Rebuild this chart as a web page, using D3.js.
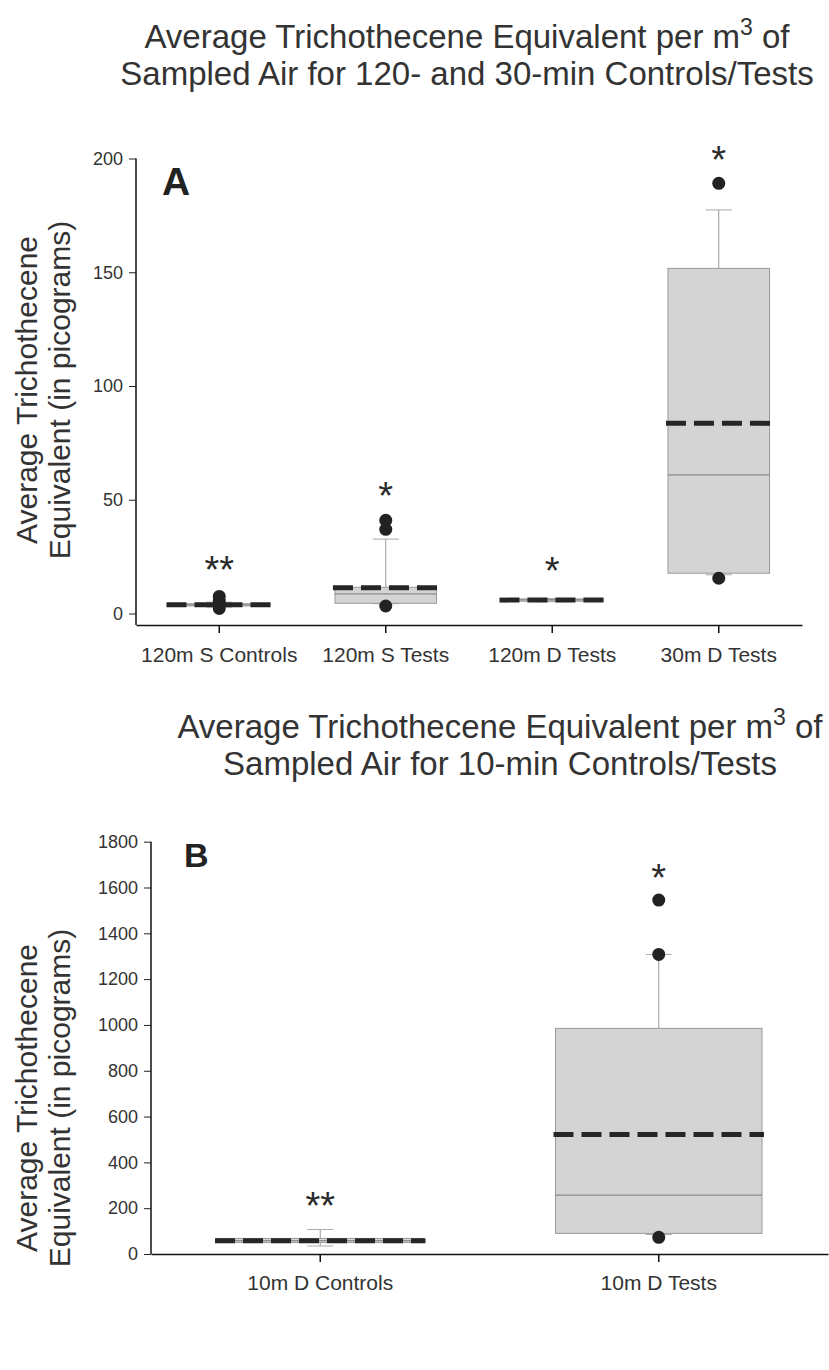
<!DOCTYPE html>
<html>
<head>
<meta charset="utf-8">
<script src="https://cdn.jsdelivr.net/npm/d3@7"></script>
<style>
	body { margin: 0; background: #fff; }
	text { font-family: "Liberation Sans", Arial, sans-serif; fill: #333; }
</style>
</head>
<body>
<div id="chart"></div>
<script>
'use strict'
var width = 829;
var height = 1370;

// Panel A: 120- and 30-min controls / tests
var catsA = ['120m S Controls', '120m S Tests', '120m D Tests', '30m D Tests'];
var q1A = [3.3, 4.5, 5.4, 17.7];
var medA = [3.8, 8.6, 6.0, 60.9];
var q3A = [4.3, 11.5, 6.4, 151.7];
var meanA = [3.8, 11.3, 5.9, 83.6];
var lowA = [2.8, 4.3, 5.2, 17.0];
var highA = [5.0, 32.7, 6.6, 177.4];
var outA = [[7.5, 5.5, 2.2], [41, 37, 3.3], [], [189.1, 15.5]];
var starsA = ['**', '*', '*', '*'];
var starAtA = [22.8, 55, 22.1, 203];
var ticksA = [0, 50, 100, 150, 200];

// Panel B: 10-min controls / tests
var catsB = ['10m D Controls', '10m D Tests'];
var q1B = [50, 90];
var medB = [58, 257];
var q3B = [68, 985];
var meanB = [58, 522];
var lowB = [35, 85];
var highB = [107, 1308];
var outB = [[], [1545, 1308, 73]];
var starsB = ['**', '*'];
var starAtB = [243, 1676];
var ticksB = [0, 200, 400, 600, 800, 1000, 1200, 1400, 1600, 1800];

var svg = d3.select('#chart')
	.append('svg')
	.attr('width', width)
	.attr('height', height);

function makeRows(cats, q1, med, q3, mean, low, high, out, stars, starAt){
	return cats.map(function(c, i){
		return {cat: c, q1: q1[i], med: med[i], q3: q3[i], mean: mean[i],
			low: low[i], high: high[i], out: out[i], star: stars[i], starAt: starAt[i]};
	});
}

function drawTitle(cx, y1, y2, line2){
	var t = svg.append('text')
		.attr('x', cx).attr('y', y1)
		.attr('text-anchor', 'middle')
		.style('font-size', '33px');
	t.append('tspan').text('Average Trichothecene Equivalent per m');
	t.append('tspan').text('3').attr('dy', -13).style('font-size', '23px');
	t.append('tspan').text(' of').attr('dy', 13);
	svg.append('text')
		.attr('x', cx).attr('y', y2)
		.attr('text-anchor', 'middle')
		.style('font-size', '33px')
		.text(line2);
}

function drawPanel(rows, ticks, p){
	var y = d3.scaleLinear().domain([0, p.yMax]).range([p.yBot, p.yTop]);
	var x = d3.scaleBand().domain(rows.map(function(d){ return d.cat; })).range([p.x0, p.x1]);
	var bw = x.bandwidth() * 0.61;
	var cx = function(d){ return x(d.cat) + x.bandwidth() / 2; };

	// y axis
	var ya = svg.append('g')
		.attr('transform', 'translate(' + p.x0 + ',0)')
		.call(d3.axisLeft(y).tickValues(ticks).tickFormat(d3.format('d'))
			.tickSize(7).tickPadding(6).tickSizeOuter(0));
	ya.select('.domain').remove();
	ya.selectAll('text').style('font-size', '18px').style('fill', '#333');
	ya.selectAll('line').style('stroke', '#222');
	svg.append('line')
		.attr('x1', p.x0).attr('x2', p.x0)
		.attr('y1', y(p.yMax)).attr('y2', p.axisY)
		.style('stroke', '#111').style('stroke-width', 1.5);

	// x axis
	var xa = svg.append('g')
		.attr('transform', 'translate(0,' + p.axisY + ')')
		.call(d3.axisBottom(x).tickSize(8).tickPadding(p.labelPad).tickSizeOuter(0));
	xa.select('.domain').style('stroke', '#111').style('stroke-width', 1.5);
	xa.selectAll('line').style('stroke', '#111').style('stroke-width', 1.5);
	xa.selectAll('text').style('font-size', '21px').style('fill', '#333');

	var g = svg.append('g');
	var box = g.selectAll('g.box').data(rows).enter().append('g').attr('class', 'box');

	// whiskers
	box.append('line')
		.attr('x1', cx).attr('x2', cx)
		.attr('y1', function(d){ return y(d.q3); })
		.attr('y2', function(d){ return y(d.high); })
		.style('stroke', '#999');
	box.append('line')
		.attr('x1', cx).attr('x2', cx)
		.attr('y1', function(d){ return y(d.q1); })
		.attr('y2', function(d){ return y(d.low); })
		.style('stroke', '#999');
	['high', 'low'].forEach(function(k){
		box.append('line')
			.attr('x1', function(d){ return cx(d) - 13; })
			.attr('x2', function(d){ return cx(d) + 13; })
			.attr('y1', function(d){ return y(d[k]); })
			.attr('y2', function(d){ return y(d[k]); })
			.style('stroke', '#aaa');
	});

	// box
	box.append('rect')
		.attr('x', function(d){ return cx(d) - bw / 2; })
		.attr('width', bw)
		.attr('y', function(d){ return y(d.q3); })
		.attr('height', function(d){ return y(d.q1) - y(d.q3); })
		.style('fill', '#d4d4d4')
		.style('stroke', '#9a9a9a');

	// median
	box.append('line')
		.attr('x1', function(d){ return cx(d) - bw / 2; })
		.attr('x2', function(d){ return cx(d) + bw / 2; })
		.attr('y1', function(d){ return y(d.med); })
		.attr('y2', function(d){ return y(d.med); })
		.style('stroke', '#7a7a7a');

	// mean (dashed)
	box.append('line')
		.attr('x1', function(d){ return cx(d) - bw / 2 - 2; })
		.attr('x2', function(d){ return cx(d) + bw / 2 + 2; })
		.attr('y1', function(d){ return y(d.mean); })
		.attr('y2', function(d){ return y(d.mean); })
		.style('stroke', '#262626')
		.style('stroke-width', 5)
		.style('stroke-dasharray', '20,8');

	// outliers
	box.selectAll('circle')
		.data(function(d){ return d.out.map(function(v){ return {cat: d.cat, v: v}; }); })
		.enter().append('circle')
		.attr('cx', cx)
		.attr('cy', function(d){ return y(d.v); })
		.attr('r', 6.5)
		.style('fill', '#222');

	// significance stars
	box.append('text')
		.attr('x', cx)
		.attr('y', function(d){ return y(d.starAt) + 21; })
		.attr('text-anchor', 'middle')
		.style('font-size', '38px')
		.style('fill', '#2a2a2a')
		.text(function(d){ return d.star; });

	// panel letter
	svg.append('text')
		.attr('x', p.letterX).attr('y', p.letterY)
		.style('font-size', p.letterSize + 'px')
		.style('font-weight', 'bold')
		.style('fill', '#222')
		.text(p.letter);

	// y label
	var yl = svg.append('text')
		.attr('transform', 'translate(0,' + p.ylabelY + ') rotate(-90)')
		.attr('text-anchor', 'middle')
		.style('font-size', '30px');
	yl.append('tspan').attr('x', 0).attr('y', 37).text('Average Trichothecene');
	yl.append('tspan').attr('x', 0).attr('y', 70).text('Equivalent (in picograms)');
}

drawTitle(467, 48, 85, 'Sampled Air for 120- and 30-min Controls/Tests');
drawPanel(makeRows(catsA, q1A, medA, q3A, meanA, lowA, highA, outA, starsA, starAtA), ticksA, {
	x0: 136, x1: 802, yTop: 158.5, yBot: 613.5, axisY: 625, yMax: 200, labelPad: 14,
	letter: 'A', letterX: 162, letterY: 195, letterSize: 39, ylabelY: 390
});

drawTitle(500, 738, 775, 'Sampled Air for 10-min Controls/Tests');
drawPanel(makeRows(catsB, q1B, medB, q3B, meanB, lowB, highB, outB, starsB, starAtB), ticksB, {
	x0: 151, x1: 828, yTop: 841.7, yBot: 1254, axisY: 1254, yMax: 1800, labelPad: 13,
	letter: 'B', letterX: 184, letterY: 867, letterSize: 34, ylabelY: 1098
});
</script>
</body>
</html>
